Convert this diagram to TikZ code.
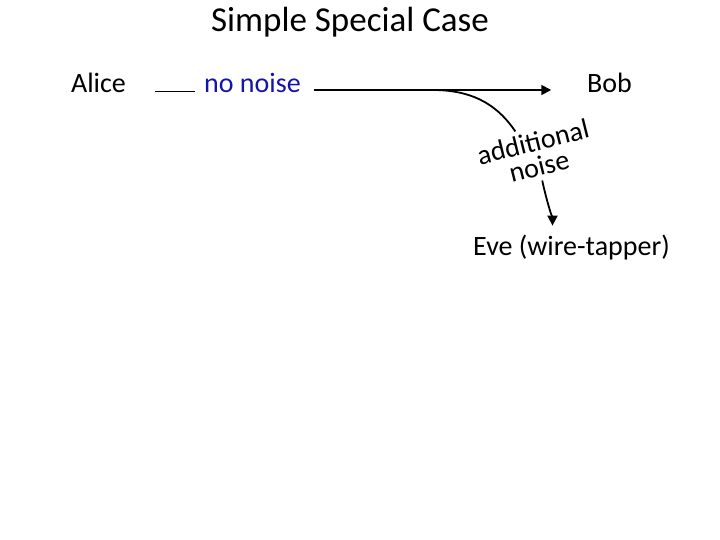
\documentclass[tikz,border=0pt]{standalone}
\usepackage{fontspec}
\setmainfont{Carlito}
\usetikzlibrary{arrows.meta}
\definecolor{noiseblue}{RGB}{20,20,170}

\begin{document}
\begin{tikzpicture}[x=1pt, y=-1pt, >={Triangle[length=10pt, width=10pt]}, line width=1.8pt,
    txt/.style={inner sep=0pt, anchor=base, font=\fontsize{28}{25}\selectfont}]

    \useasboundingbox (0,0) rectangle (720,540);

    %define the texts
    \node[txt, font=\fontsize{35}{40}\selectfont] (title) at (350,32) {Simple Special Case};
    \node[txt] (alice) at (98.5,92.5) {Alice};
    \node[txt, text=noiseblue] (nonoise) at (252.5,92.5) {no noise};
    \node[txt] (bob) at (609.5,93) {Bob};
    \node[txt, align=center, rotate=14, anchor=center] (addnoise) at (536,154) {additional\\noise};
    \node[txt] (eve) at (571.5,255) {Eve (wire-tapper)};

    %define the tap on the channel
    \coordinate (tap) at (433,90);

    %define the links
    \draw ([xshift=28pt,yshift=1pt]alice.base east) -- ([xshift=-8pt,yshift=1pt]nonoise.base west);
    \draw[->] ([xshift=12pt,yshift=2.5pt]nonoise.base east) -- ([xshift=-35pt,yshift=3pt]bob.base west);
    \draw (tap) .. controls +(45,0) and +(-15,-22) .. ([xshift=-15pt]addnoise.north);
    \draw[->, shorten <=4pt, shorten >=8pt] (addnoise.south) .. controls +(2,12) and +(0,-12) .. ([xshift=-19pt]eve.north);
\end{tikzpicture}
\end{document}
